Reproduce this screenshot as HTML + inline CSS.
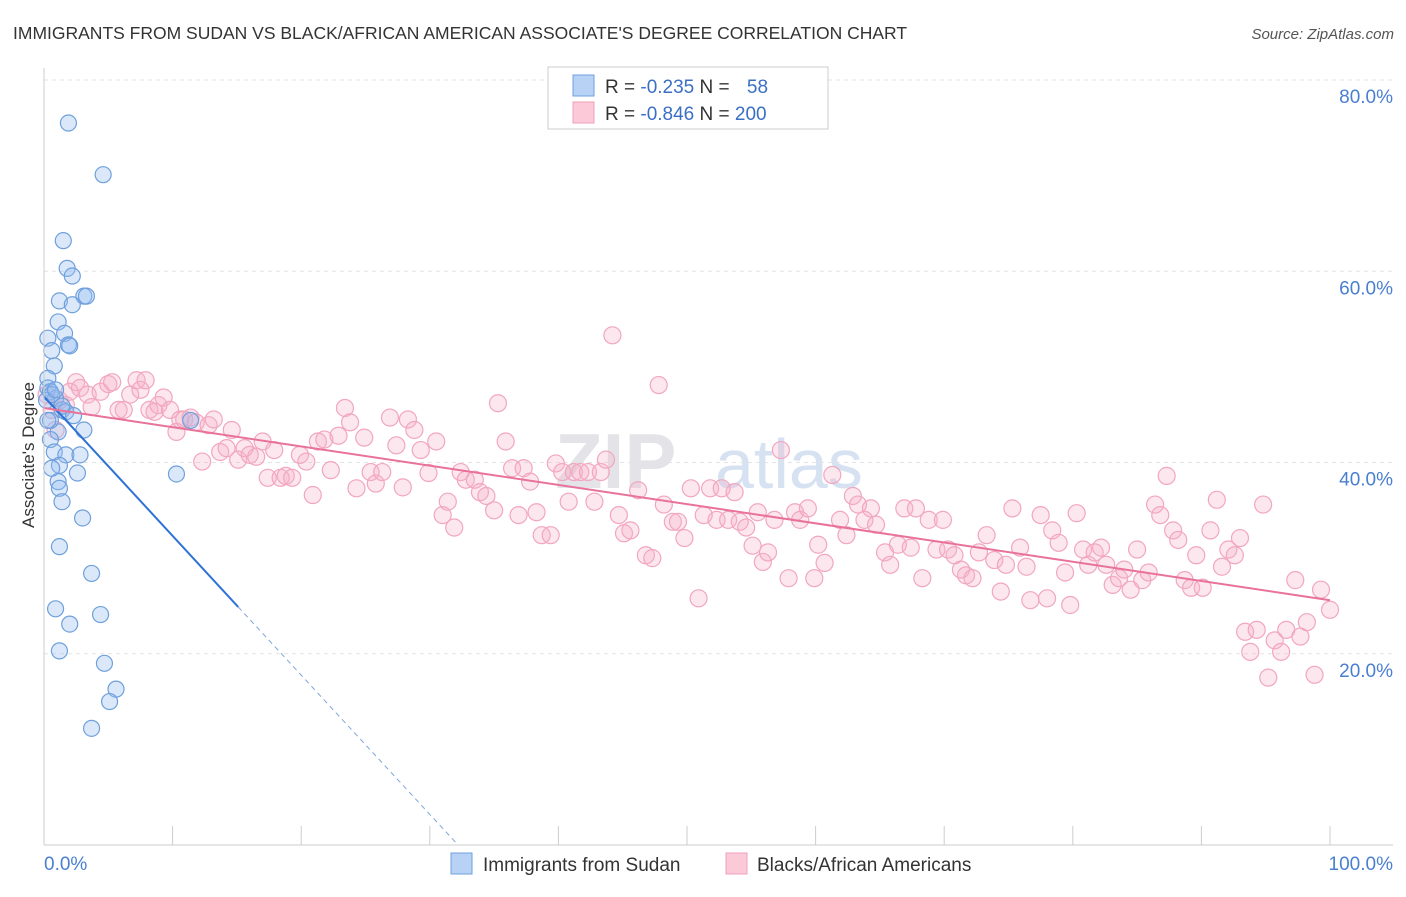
<!DOCTYPE html>
<html><head><meta charset="utf-8"><style>
body{margin:0;background:#fff;font-family:"Liberation Sans",sans-serif}
svg text{font-family:"Liberation Sans",sans-serif}
</style></head><body>
<svg id="chart" width="1406" height="892" xmlns="http://www.w3.org/2000/svg">
<text x="13" y="39" font-size="17.5" fill="#333">IMMIGRANTS FROM SUDAN VS BLACK/AFRICAN AMERICAN ASSOCIATE'S DEGREE CORRELATION CHART</text>
<text x="1394" y="39" font-size="15" fill="#555" font-style="italic" text-anchor="end">Source: ZipAtlas.com</text>
<text transform="translate(34,455) rotate(-90)" font-size="17" fill="#333" text-anchor="middle">Associate's Degree</text>
<g><text x="555" y="488" font-size="78" fill="#e4e4e8" font-weight="bold" font-family="Liberation Serif">ZIP</text><text x="715" y="488" font-size="70" fill="#d6e2f2">atlas</text></g>
<g id="grid"></g><g id="pink"></g><g id="blue"></g><g id="lines"></g><g id="axes"></g>
<g>
<rect x="548" y="67" width="280" height="62" fill="#fff" stroke="#ccc"/>
<rect x="573" y="75" width="21" height="21" fill="#b7d2f5" stroke="#6fa0dc"/>
<rect x="573" y="102" width="21" height="21" fill="#fbc9d8" stroke="#f0a0bb"/>
<text x="605" y="93" font-size="19" fill="#333">R = <tspan fill="#3a6fc4">-0.235</tspan>   N = <tspan fill="#3a6fc4" dx="12">58</tspan></text>
<text x="605" y="120" font-size="19" fill="#333">R = <tspan fill="#3a6fc4">-0.846</tspan>   N = <tspan fill="#3a6fc4">200</tspan></text>
</g>
<g>
<rect x="451" y="853" width="21" height="21" fill="#b7d2f5" stroke="#6fa0dc"/>
<text x="483" y="871" font-size="19" fill="#333">Immigrants from Sudan</text>
<rect x="726" y="853" width="21" height="21" fill="#fbc9d8" stroke="#f0a0bb"/>
<text x="757" y="871" font-size="19" fill="#333">Blacks/African Americans</text>
</g>
</svg>
<script>
const blueX=[1.9,4.6,1.5,1.8,2.2,1.2,3.1,3.3,2.2,1.1,1.6,0.3,1.9,2.0,0.6,0.8,0.3,0.3,0.5,0.9,1.4,1.7,2.3,11.4,1.1,3.1,0.5,0.8,1.7,2.8,1.2,0.6,2.6,10.3,1.1,1.2,1.4,3.0,1.2,3.7,0.9,4.4,2.0,1.2,4.7,5.6,5.1,3.7,0.5,0.2,0.6,0.9,0.3,1.4];
const blueY=[75.5,70.1,63.2,60.3,59.5,56.9,57.4,57.4,56.5,54.7,53.5,53.0,52.3,52.2,51.7,50.1,48.8,47.8,47.4,46.7,45.5,45.3,44.9,44.4,43.2,43.4,42.4,41.1,40.8,40.8,39.7,39.4,38.9,38.8,38.0,37.3,35.9,34.2,31.2,28.4,24.7,24.1,23.1,20.3,19.0,16.3,15.0,12.2,44.4,46.5,47.1,47.6,44.4,45.9];
const pinkX=[0.2,0.6,0.9,1.2,1.7,2.0,2.5,2.8,3.4,3.7,4.4,5.0,5.3,5.8,6.2,6.7,7.2,7.5,7.9,8.2,8.6,8.9,9.3,9.8,10.3,10.6,10.9,11.4,11.8,12.3,12.8,13.2,13.7,14.2,14.6,15.1,15.6,16.0,16.5,17.0,17.4,17.9,18.4,18.8,19.3,19.9,20.4,20.9,21.3,21.8,22.3,22.9,23.4,23.8,24.3,24.9,25.4,25.8,26.3,26.9,27.4,27.9,28.3,28.8,29.3,29.9,30.5,31.0,31.4,31.9,32.4,32.8,33.5,33.9,34.4,35.0,35.3,35.9,36.4,36.9,37.3,37.8,38.3,38.7,39.4,39.8,40.3,40.8,41.2,41.7,42.3,42.8,43.3,43.7,44.2,44.7,45.1,45.6,46.2,46.8,47.3,47.8,48.2,48.9,49.3,49.8,50.3,50.9,51.3,51.8,52.3,52.7,53.2,53.7,54.1,54.6,55.1,55.5,55.9,56.3,56.8,57.3,57.9,58.4,58.8,59.4,59.9,60.2,60.7,61.3,61.9,62.4,62.9,63.3,63.8,64.3,64.7,65.4,65.8,66.4,66.9,67.4,67.8,68.3,68.8,69.4,69.9,70.3,70.8,71.3,71.7,72.2,72.7,73.3,73.9,74.4,74.8,75.3,75.9,76.4,76.7,77.5,78.0,78.4,78.9,79.4,79.8,80.3,80.8,81.2,81.7,82.2,82.6,83.1,83.6,84.0,84.5,85.0,85.4,85.9,86.4,86.8,87.3,87.8,88.2,88.7,89.2,89.6,90.1,90.7,91.2,91.6,92.1,92.6,93.0,93.4,93.8,94.3,94.8,95.2,95.7,96.2,96.6,97.3,97.7,98.2,98.8,99.3,100.0];
const pinkY=[47.1,45.5,43.4,46.5,46.0,47.4,48.4,47.8,47.1,45.8,47.4,48.2,48.4,45.5,45.5,47.1,48.6,47.6,48.6,45.5,45.3,46.0,46.8,45.5,43.2,44.5,44.5,44.7,44.2,40.1,43.9,44.5,41.1,41.5,43.4,40.3,41.5,40.8,40.6,42.2,38.4,41.3,38.4,38.6,38.4,40.8,40.1,36.6,42.2,42.4,39.2,42.8,45.7,44.2,37.3,42.6,39.0,37.8,39.0,44.7,41.8,37.4,44.5,43.4,41.3,38.9,42.2,34.5,35.9,33.2,39.0,38.2,38.2,36.9,36.5,35.0,46.2,42.2,39.4,34.5,39.4,38.0,34.8,32.4,32.4,39.9,39.0,35.9,39.0,39.0,39.0,35.9,39.0,40.3,53.3,34.5,32.6,32.9,37.1,30.3,30.0,48.1,35.6,33.8,33.8,32.1,37.3,25.8,34.5,37.3,34.0,37.3,34.0,36.9,33.8,33.2,31.3,34.8,29.6,30.6,34.0,41.3,27.9,34.8,34.0,35.2,27.9,31.4,29.5,38.7,34.0,32.4,36.5,35.6,34.0,35.2,33.5,30.6,29.3,31.4,35.2,31.1,35.2,27.9,34.0,30.9,34.0,30.9,30.3,28.8,28.2,27.9,30.6,32.4,29.8,26.5,29.3,35.2,31.1,29.1,25.6,34.5,25.8,32.9,31.6,28.5,25.1,34.7,30.9,29.3,30.6,31.1,29.3,27.2,27.9,28.8,26.7,30.9,27.7,28.5,35.6,34.5,38.6,32.9,31.9,27.7,26.9,30.3,26.9,32.9,36.1,29.1,30.9,30.3,32.1,22.3,20.2,22.5,35.6,17.5,21.4,20.2,22.5,27.7,21.8,23.3,17.8,26.7,24.6];
const yTicks=[20,40,60,80];
const yTickLabels=["20.0%","40.0%","60.0%","80.0%"];
const xTicks=[0,10,20,30,40,50,60,70,80,90,100];
const blueTrend=[[0,46.9],[15.1,24.9],[32.2,0]];
const pinkTrend=[[0,45.7],[100,25.6]];
const NS="http://www.w3.org/2000/svg";
const X=v=>44+v*12.86, Y=v=>845-v*9.5625;
function mk(tag,attrs,parent){const e=document.createElementNS(NS,tag);for(const k in attrs)e.setAttribute(k,attrs[k]);document.getElementById(parent).appendChild(e);return e;}
yTicks.forEach((t,i)=>{
 const g=mk('line',{x1:44,x2:1393,y1:Y(t),y2:Y(t),stroke:'#e3e3e3','stroke-dasharray':'4 4'},'grid');
 
 
 const l=mk('text',{x:1393,y:Y(t)+23,'font-size':19,fill:'#4a7fd0','text-anchor':'end'},'axes');
 l.textContent=yTickLabels[i];
 
 
});
const tg=mk('line',{x1:44,x2:1393,y1:Y(80),y2:Y(80),stroke:'#e3e3e3','stroke-dasharray':'4 4'},'grid');


const ya=mk('line',{x1:44,x2:44,y1:68,y2:845,stroke:'#ccc'},'axes');


const xa=mk('line',{x1:44,x2:1393,y1:845,y2:845,stroke:'#ccc'},'axes');


xTicks.forEach(t=>{const k=mk('line',{x1:X(t),x2:X(t),y1:826,y2:845,stroke:'#ccc'},'axes');
 
 });
const x0=mk('text',{x:44,y:870,'font-size':19,fill:'#4a7fd0'},'axes');x0.textContent='0.0%';


const x1=mk('text',{x:1393,y:870,'font-size':19,fill:'#4a7fd0','text-anchor':'end'},'axes');x1.textContent='100.0%';


pinkX.forEach((v,i)=>{const c=mk('circle',{cx:X(v),cy:Y(pinkY[i]),r:8.5,fill:'rgba(246,175,198,0.3)',stroke:'#f2a6bf','stroke-width':1.2},'pink');
 
 });
blueX.forEach((v,i)=>{const c=mk('circle',{cx:X(v),cy:Y(blueY[i]),r:8,fill:'rgba(150,190,240,0.35)',stroke:'#6fa0dc','stroke-width':1.2},'blue');
 
 });
const b1=mk('line',{x1:X(blueTrend[0][0]),y1:Y(blueTrend[0][1]),x2:X(blueTrend[1][0]),y2:Y(blueTrend[1][1]),stroke:'#2f72d6','stroke-width':2},'lines');


const b2=mk('line',{x1:X(blueTrend[1][0]),y1:Y(blueTrend[1][1]),x2:X(blueTrend[2][0]),y2:Y(blueTrend[2][1]),stroke:'#7fa6dc','stroke-width':1,'stroke-dasharray':'5 4'},'lines');


const p1=mk('line',{x1:X(pinkTrend[0][0]),y1:Y(pinkTrend[0][1]),x2:X(pinkTrend[1][0]),y2:Y(pinkTrend[1][1]),stroke:'#e8729a','stroke-width':2},'lines');


</script>
</body></html>
